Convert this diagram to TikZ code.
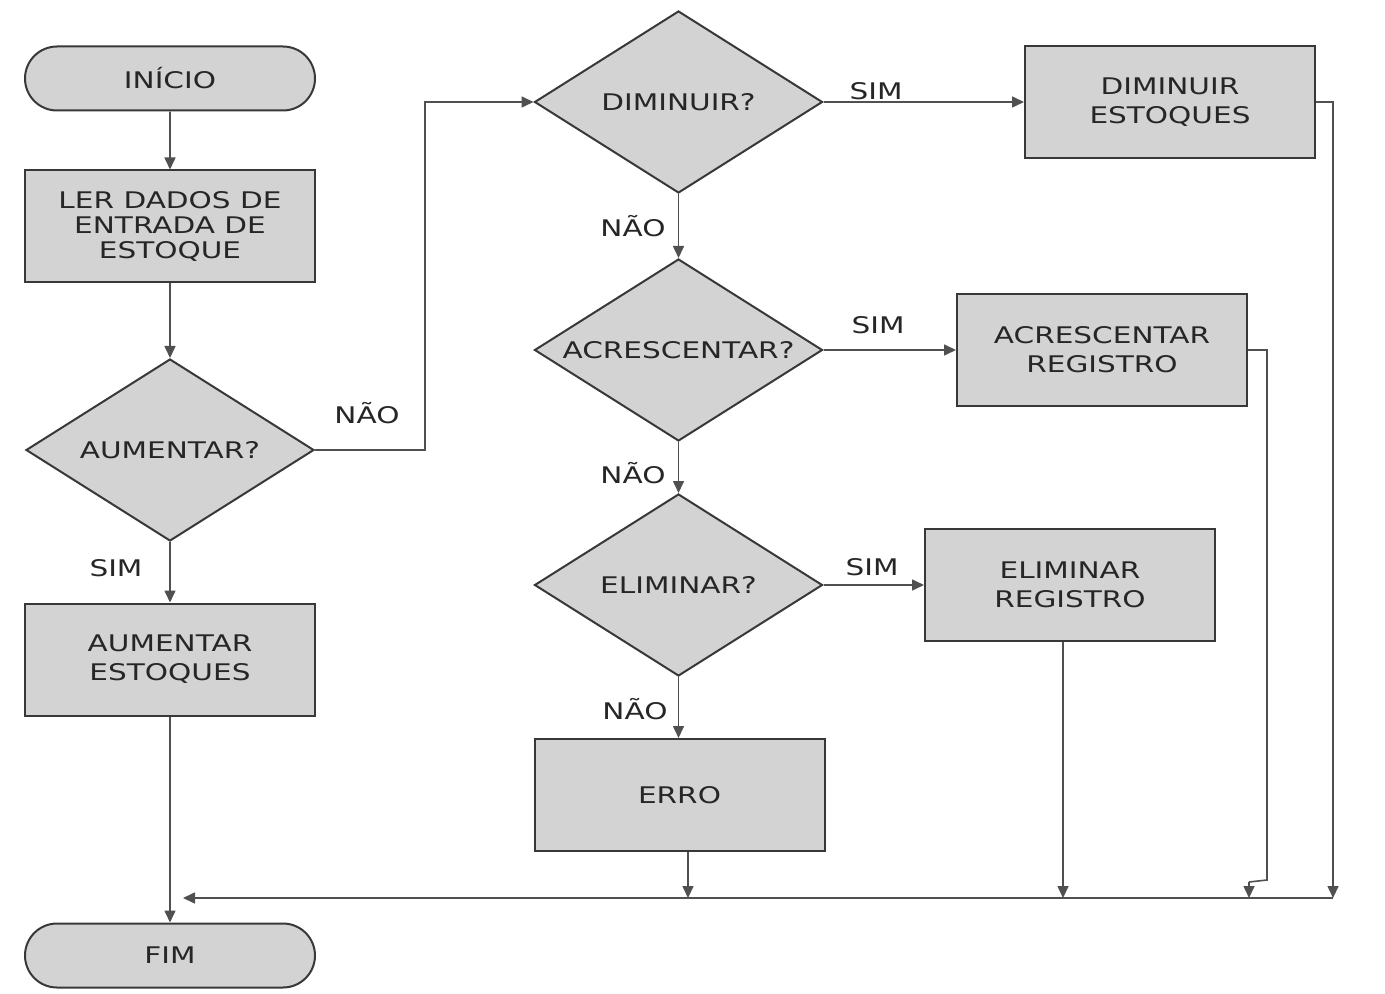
\documentclass[tikz,border=0pt]{standalone}
\usepackage{fontspec}
\setmainfont[FakeStretch=1.29]{DejaVu Sans}
\usetikzlibrary{arrows.meta,shapes.geometric,shapes.misc,calc}
\definecolor{boxfill}{HTML}{D3D3D3}
\definecolor{edge}{HTML}{383838}
\definecolor{wire}{HTML}{505050}
\definecolor{ink}{HTML}{262626}
\begin{document}
\begin{tikzpicture}[x=0.5pt,y=-0.5pt,
  font=\fontsize{11.45}{14.5}\selectfont,
  box/.style={draw=edge, line width=1pt, fill=boxfill, minimum width=145pt,
    minimum height=56pt, inner sep=0pt, align=center, text=ink},
  dec/.style={diamond, draw=edge, line width=1pt, fill=boxfill, minimum width=144pt,
    minimum height=91pt, inner sep=0pt, aspect=1.6, text=ink},
  term/.style={rounded rectangle, draw=edge, line width=1pt, fill=boxfill,
    minimum width=145pt, minimum height=32pt, inner sep=0pt, text=ink},
  arr/.style={draw=wire, line width=0.8pt, -{Triangle[length=6pt,width=5.5pt]}},
  wireline/.style={draw=wire, line width=0.8pt},
  lbl/.style={text=ink, inner sep=0pt}]
\useasboundingbox (0,0) rectangle (1385,994);
\fill[white] (0,0) rectangle (1385,994);

% nodes
\node[term] (ini) at (170,78.5) {INÍCIO};
\node[box, font=\fontsize{11.45}{12.3}\selectfont] (ler) at (170,226.5) {LER DADOS DE\\ENTRADA DE\\ESTOQUE};
\node[dec] (aumq) at (170,450) {AUMENTAR?};
\node[box] (aumest) at (170,659.5) {AUMENTAR\\ESTOQUES};
\node[term] (fim) at (170,955.5) {FIM};

\node[dec] (dimq) at (678.5,102) {DIMINUIR?};
\node[dec] (acrq) at (678.5,350) {ACRESCENTAR?};
\node[dec] (elimq) at (678.5,585) {ELIMINAR?};
\node[box] (erro) at (679.5,795) {ERRO};

\node[box] (dimest) at (1170,102) {DIMINUIR\\ESTOQUES};
\node[box] (acrreg) at (1102,350) {ACRESCENTAR\\REGISTRO};
\node[box] (elimreg) at (1070,585) {ELIMINAR\\REGISTRO};

% helper coordinates
\coordinate (jn) at (425,275);
\coordinate (busL) at (183,898);
\coordinate (busR) at (1333,898);
\coordinate (acrdown) at (1267,880);
\coordinate (acrbend) at (1249,882);
\coordinate (acrhit) at (1249,898);
\coordinate (errohit) at (688,898);
\coordinate (elimhit) at (1063,898);

% connectors
\draw[arr] (ini) -- (ler);
\draw[arr] (ler) -- (aumq);
\draw[arr] (aumq.east) -| (jn) |- (dimq.west);
\draw[arr] (aumq) -- (aumest);
\draw[arr] (aumest) -- (fim);

\draw[arr] (dimq) -- (dimest);
\draw[arr] (dimq) -- (acrq);
\draw[arr] (acrq) -- (acrreg);
\draw[arr] (acrq) -- (elimq);
\draw[arr] (elimq) -- (elimreg);
\draw[arr] (elimq.south) -- (elimq.south |- erro.north);

\draw[arr] (erro.south -| errohit) -- (errohit);
\draw[arr] (elimreg.south -| elimhit) -- (elimhit);
\draw[wireline] (acrreg.east) -| (acrdown) -- (acrbend);
\draw[arr] (acrbend) -- (acrhit);
\draw[arr] (dimest.east) -| (busR);
\draw[arr] (busR) -- (busL);

% labels
\node[lbl] (l1) at (367,413) {NÃO};
\node[lbl] (l2) at (116,568) {SIM};
\node[lbl] (l3) at (876,91) {SIM};
\node[lbl] (l4) at (633,226) {NÃO};
\node[lbl] (l5) at (878,325) {SIM};
\node[lbl] (l6) at (633,473) {NÃO};
\node[lbl] (l7) at (872,567) {SIM};
\node[lbl] (l8) at (635,709) {NÃO};
\end{tikzpicture}
\end{document}
